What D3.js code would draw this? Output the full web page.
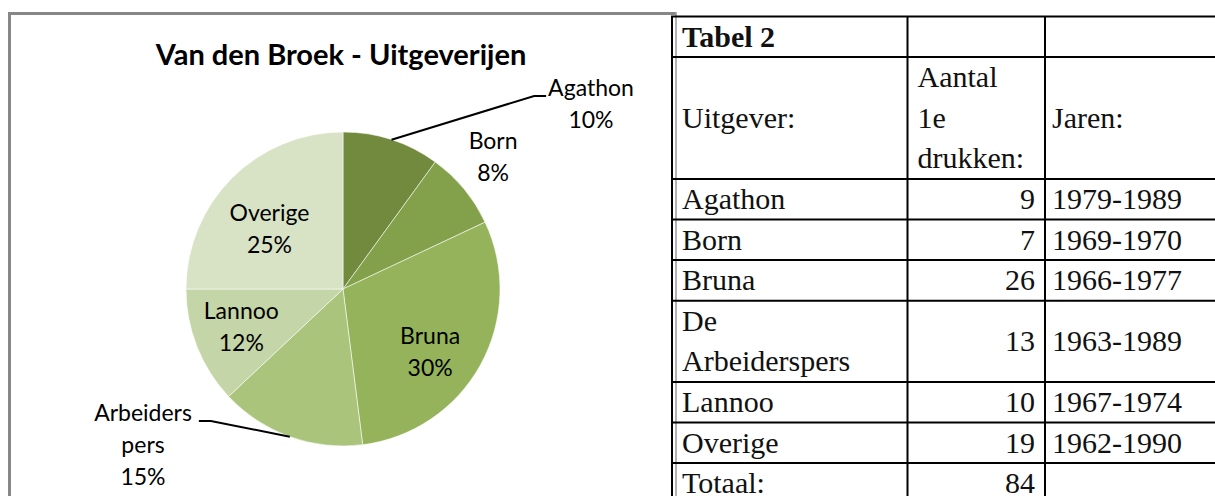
<!DOCTYPE html>
<html>
<head>
<meta charset="utf-8">
<script src="https://cdn.jsdelivr.net/npm/d3@7"></script>
<style>
  body { margin: 0; background: #fff; }
</style>
</head>
<body>
<div id="chart"></div>
<script>
// Pie data (percentages as printed on the chart)
const sliceNames = ["Agathon", "Born", "Bruna", "Arbeiders pers", "Lannoo", "Overige"];
const sliceShares = [10, 8, 30, 15, 12, 25];
const sliceColors = ["#728a3e", "#83a14a", "#94b35a", "#aac47b", "#c4d5a7", "#d8e3c6"];
const chartTitle = "Van den Broek - Uitgeverijen";

// Table data
const tableTitle = "Tabel 2";
const headers = ["Uitgever:", "Aantal 1e drukken:", "Jaren:"];
const publishers = ["Agathon", "Born", "Bruna", "De Arbeiderspers", "Lannoo", "Overige"];
const firstEditions = [9, 7, 26, 13, 10, 19];
const yearRanges = ["1979-1989", "1969-1970", "1966-1977", "1963-1989", "1967-1974", "1962-1990"];
const totalLabel = "Totaal:";

const width = 1215;
const height = 496;

const svg = d3.select("#chart").append("svg")
    .attr("width", width)
    .attr("height", height)
    .style("display", "block");

svg.append("rect").attr("width", width).attr("height", height).attr("fill", "#fff");

// ---- chart frame ----
const frame = svg.append("g");
frame.append("line").attr("x1", 9.5).attr("x2", 9.5).attr("y1", 12).attr("y2", height)
    .attr("stroke", "#878787").attr("stroke-width", 3);
frame.append("line").attr("x1", 8).attr("x2", 676).attr("y1", 13.5).attr("y2", 13.5)
    .attr("stroke", "#878787").attr("stroke-width", 3);
frame.append("line").attr("x1", 676).attr("x2", 676).attr("y1", 12).attr("y2", height)
    .attr("stroke", "#9a9a9a").attr("stroke-width", 1.5);

svg.append("text")
    .attr("x", 341)
    .attr("y", 65)
    .attr("text-anchor", "middle")
    .attr("font-family", "Lato, 'Open Sans', sans-serif")
    .attr("font-weight", "bold")
    .attr("font-size", 29)
    .attr("fill", "#000")
    .text(chartTitle);

// ---- pie ----
const cx = 343, cy = 289, radius = 157;
const lineGap = 32;

const pie = d3.pie().sort(null).value(d => d);
const arcs = pie(sliceShares);
const arc = d3.arc().innerRadius(0).outerRadius(radius);

const pieG = svg.append("g").attr("transform", `translate(${cx},${cy})`);

pieG.selectAll("path.slice")
    .data(arcs)
    .enter().append("path")
    .attr("class", "slice")
    .attr("d", arc)
    .attr("fill", (d, i) => sliceColors[i])
    .attr("stroke", "rgba(255,255,255,0.55)")
    .attr("stroke-width", 1);

// label placement per slice
const labelLayout = [
    { type: "callout", dx: 248, dy: -201, side: "right" },
    { type: "outside", r: 200, nudge: -5, shift: -4 },
    { type: "inside", r: 104, nudge: 13, shift: -4 },
    { type: "callout", dx: -200, dy: 124, side: "left" },
    { type: "inside", r: 104, nudge: 0, shift: -5 },
    { type: "inside", r: 104, nudge: 13, shift: 0 }
];

const labelFont = "Lato, 'Open Sans', sans-serif";

arcs.forEach((d, i) => {
    const lay = labelLayout[i];
    const lines = sliceNames[i].split(" ").concat([sliceShares[i] + "%"]);
    const mid = (d.startAngle + d.endAngle) / 2;
    let x0, y0;
    if (lay.type === "callout") {
        x0 = lay.dx;
        y0 = lay.dy;
    } else {
        const c = d3.arc().innerRadius(lay.r).outerRadius(lay.r).centroid(d);
        x0 = c[0] + lay.shift;
        y0 = c[1] + lay.nudge - (lines.length - 1) * lineGap / 2;
    }
    const t = pieG.append("text")
        .attr("text-anchor", "middle")
        .attr("font-family", labelFont)
        .attr("font-size", 23)
        .attr("fill", "#000");
    lines.forEach((ln, k) => {
        t.append("tspan")
            .attr("x", x0)
            .attr("y", y0 + k * lineGap)
            .attr("dy", "0.35em")
            .text(ln);
    });

    if (lay.type === "callout") {
        const firstW = t.select("tspan").node().getComputedTextLength();
        const sx = Math.sin(mid) * radius, sy = -Math.cos(mid) * radius;
        const dir = lay.side === "right" ? 1 : -1;
        const ex = x0 - dir * (firstW / 2 + (dir > 0 ? 2 : 7));
        const ey = y0 + 8;
        const kx = ex - dir * 12;
        pieG.append("path")
            .attr("d", `M${sx},${sy}L${kx},${ey}L${ex},${ey}`)
            .attr("fill", "none")
            .attr("stroke", "#000")
            .attr("stroke-width", 2);
    }
});

// ---- table ----
const tableLeft = 672;
const colEdges = [672, 907.5, 1045, 1240];
const tableTop = 16.5;
const lineH = 40.6;
const tableFont = "'Liberation Serif', 'Times New Roman', serif";
const fontSize = 30;

const rows = [
    { cells: [tableTitle, "", ""], bold: true, numeric: false, wrap: false },
    { cells: headers, bold: false, numeric: false, wrap: true }
].concat(publishers.map((p, i) => ({
    cells: [p, String(firstEditions[i]), yearRanges[i]], bold: false, numeric: true, wrap: true
}))).concat([
    { cells: [totalLabel, String(d3.sum(firstEditions)), ""], bold: false, numeric: true, wrap: false }
]);

let yCursor = tableTop;
rows.forEach(r => {
    r.lines = r.cells.map(c => c === "" ? [] : (r.wrap ? c.split(" ") : [c]));
    r.n = d3.max(r.lines, l => l.length) || 1;
    r.y0 = yCursor;
    r.y1 = yCursor + r.n * lineH;
    yCursor = r.y1;
});

const tableG = svg.append("g");

rows.forEach(r => {
    r.lines.forEach((ls, ci) => {
        const blockTop = r.y0 + (r.n - ls.length) * lineH / 2;
        const alignRight = ci === 1 && r.numeric;
        const x = alignRight ? colEdges[2] - 10 : colEdges[ci] + (ci === 2 ? 7 : 10);
        ls.forEach((ln, k) => {
            tableG.append("text")
                .attr("x", x)
                .attr("y", blockTop + k * lineH + 30)
                .attr("text-anchor", alignRight ? "end" : "start")
                .attr("font-family", tableFont)
                .attr("font-size", fontSize)
                .attr("font-weight", r.bold ? "bold" : "normal")
                .attr("fill", "#111")
                .text(ln);
        });
    });
});

// grid lines
const gridY = [tableTop].concat(rows.map(r => r.y1));
tableG.selectAll("line.h")
    .data(gridY)
    .enter().append("line")
    .attr("class", "h")
    .attr("x1", tableLeft - 1).attr("x2", width)
    .attr("y1", d => d).attr("y2", d => d)
    .attr("stroke", "#000").attr("stroke-width", 2);

tableG.selectAll("line.v")
    .data(colEdges.slice(0, 3))
    .enter().append("line")
    .attr("class", "v")
    .attr("x1", d => d).attr("x2", d => d)
    .attr("y1", tableTop).attr("y2", height)
    .attr("stroke", "#000").attr("stroke-width", 2);
</script>
</body>
</html>
